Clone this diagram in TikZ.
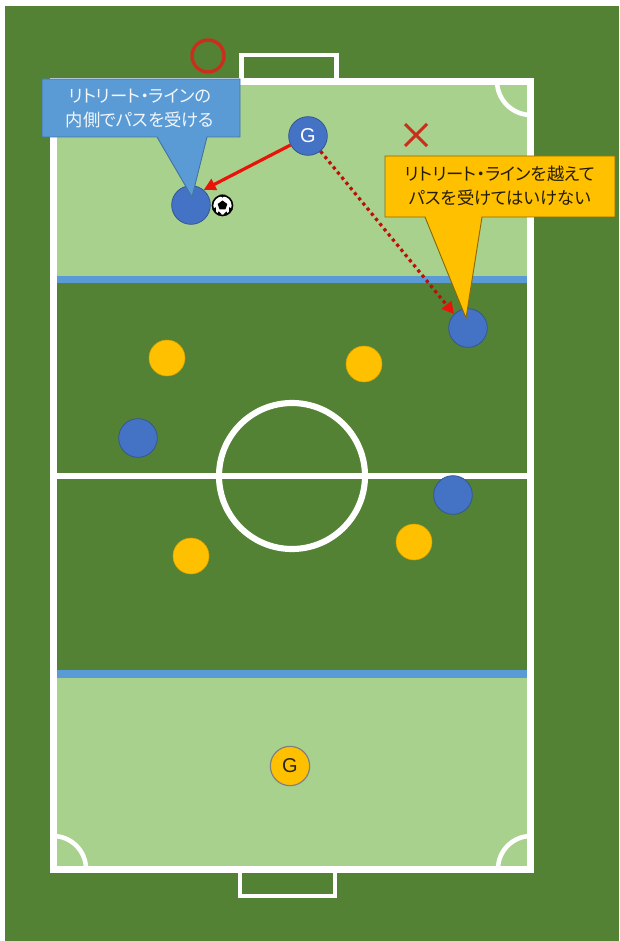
\documentclass[tikz,border=0pt]{standalone}
\usepackage{fontspec}
\newfontfamily\jpfont[RawFeature=+palt]{Noto Sans CJK JP}
\setmainfont{Liberation Sans}
\usetikzlibrary{arrows.meta}
\definecolor{pitch}{HTML}{548235}
\definecolor{lightpitch}{HTML}{A9D18E}
\definecolor{lineblue}{HTML}{5B9BD5}
\definecolor{playerblue}{HTML}{4472C4}
\definecolor{playerorange}{HTML}{FFC000}
\definecolor{arrowred}{HTML}{E8140A}
\definecolor{markred}{HTML}{C8301E}
\tikzset{
  fieldline/.style={draw=white,line width=5pt},
  goalline/.style={draw=white,line width=3.4pt},
  blueplayer/.style={circle,fill=playerblue,draw=playerblue!75!black,line width=0.6pt,minimum size=29pt,inner sep=0pt,text=white,font=\fontsize{15}{15}\selectfont},
  orangeplayer/.style={circle,fill=playerorange,draw=playerorange!85!black,line width=0.4pt,minimum size=27pt,inner sep=0pt,font=\fontsize{15}{15}\selectfont},
  keeper/.style={orangeplayer,draw=gray,line width=0.9pt,minimum size=29.5pt,text=black!85},
  calloutblue/.style={fill=lineblue,draw=lineblue!75!black,line width=0.7pt,line join=miter},
  calloutorange/.style={fill=playerorange,draw=playerorange!55!black,line width=0.7pt,line join=miter},
  callouttext/.style={align=center,inner sep=0pt,font=\jpfont\fontsize{13}{18.4}\selectfont},
  passline/.style={draw=arrowred,line width=2.4pt,-{Triangle[length=9pt,width=9pt]}},
  badpass/.style={draw=arrowred!80!black,line width=2.4pt,dash pattern=on 2.4pt off 2.6pt,-{Triangle[length=9pt,width=9pt,color=arrowred]}},
}
\begin{document}
\begin{tikzpicture}[x=0.75pt,y=-0.75pt]
\useasboundingbox (0,0) rectangle (619,941);
\fill[white] (0,0) rectangle (619,941);
\fill[pitch] (5,6) rectangle (619,941);
% pitch ends
\fill[lightpitch] (53,81) rectangle (530,276);
\fill[lightpitch] (53,672) rectangle (530,870);
\fill[lineblue] (56,275.5) rectangle (527,283);
\fill[lineblue] (56,670) rectangle (527,678);
% corner arcs
\draw[goalline] (497,81) arc[start angle=180,end angle=90,radius=34];
\draw[goalline] (53,836) arc[start angle=270,end angle=360,radius=33];
\draw[goalline] (498,869) arc[start angle=180,end angle=270,radius=33];
% lines
\draw[goalline] (241.5,81) |- (336.5,55) -- (336.5,81);
\draw[goalline] (240,870) |- (335,896) -- (335,870);
\draw[fieldline] (53.5,81.5) rectangle (530.5,869.5);
\draw[fieldline] (53.5,476) -- (530.5,476);
\draw[draw=white,line width=4.6pt] (292,476) circle[radius=73];
% marks
\draw[markred,line width=2.6pt] (208,56) circle[radius=16];
\draw[markred,line width=2.2pt] (405,124) -- (427,146) (405,146) -- (427,124);
% players
\node[blueplayer] (p1) at (191,205) {};
\node[blueplayer] (g1) at (308,136) {G};
\node[blueplayer] (p2) at (468,328) {};
\node[blueplayer] (p3) at (138,438) {};
\node[blueplayer] (p4) at (453,495) {};
\node[orangeplayer] (o1) at (167,358) {};
\node[orangeplayer] (o2) at (364,364) {};
\node[orangeplayer] (o3) at (191,556) {};
\node[orangeplayer] (o4) at (414,542) {};
\node[keeper] (g2) at (290,766) {G};
% ball
\node[circle,draw=black,fill=white,line width=1.2pt,minimum size=15pt,inner sep=0pt] (ball) at (222.5,205.5) {};
\fill[black] (222.5,200.5) -- (227.3,204) -- (225.4,209.5) -- (219.6,209.5) -- (217.7,204) -- cycle;
\fill[black] (ball.90) ++(-3,0) -- ++(6,0) -- ++(-3,3) -- cycle;
\fill[black] (ball.200) -- ++(3.5,-2) -- ++(0,5) -- cycle;
\fill[black] (ball.340) -- ++(-3.5,-2) -- ++(0,5) -- cycle;
\fill[black] (ball.240) -- ++(1.5,-3.5) -- ++(3,3) -- cycle;
\fill[black] (ball.300) -- ++(-1.5,-3.5) -- ++(-3,3) -- cycle;
% callouts
\draw[calloutblue] (42,79) -- (240,79) -- (240,137) -- (207,137) -- (192,197) -- (157,137) -- (42,137) -- cycle;
\node[callouttext,text=white!92!lineblue] (c1) at (140,108.5) {リトリート・ラインの\\内側でパスを受ける};
\draw[calloutorange] (385,156) -- (615,156) -- (615,217) -- (482,217) -- (466,318) -- (425,217) -- (385,217) -- cycle;
\node[callouttext,text=black!85!playerorange] (c2) at (500,186) {リトリート・ラインを越えて\\パスを受けてはいけない};
% passes
\draw[passline] (g1) -- (p1.50);
\draw[badpass] (g1) -- (p2.135);
\end{tikzpicture}
\end{document}
